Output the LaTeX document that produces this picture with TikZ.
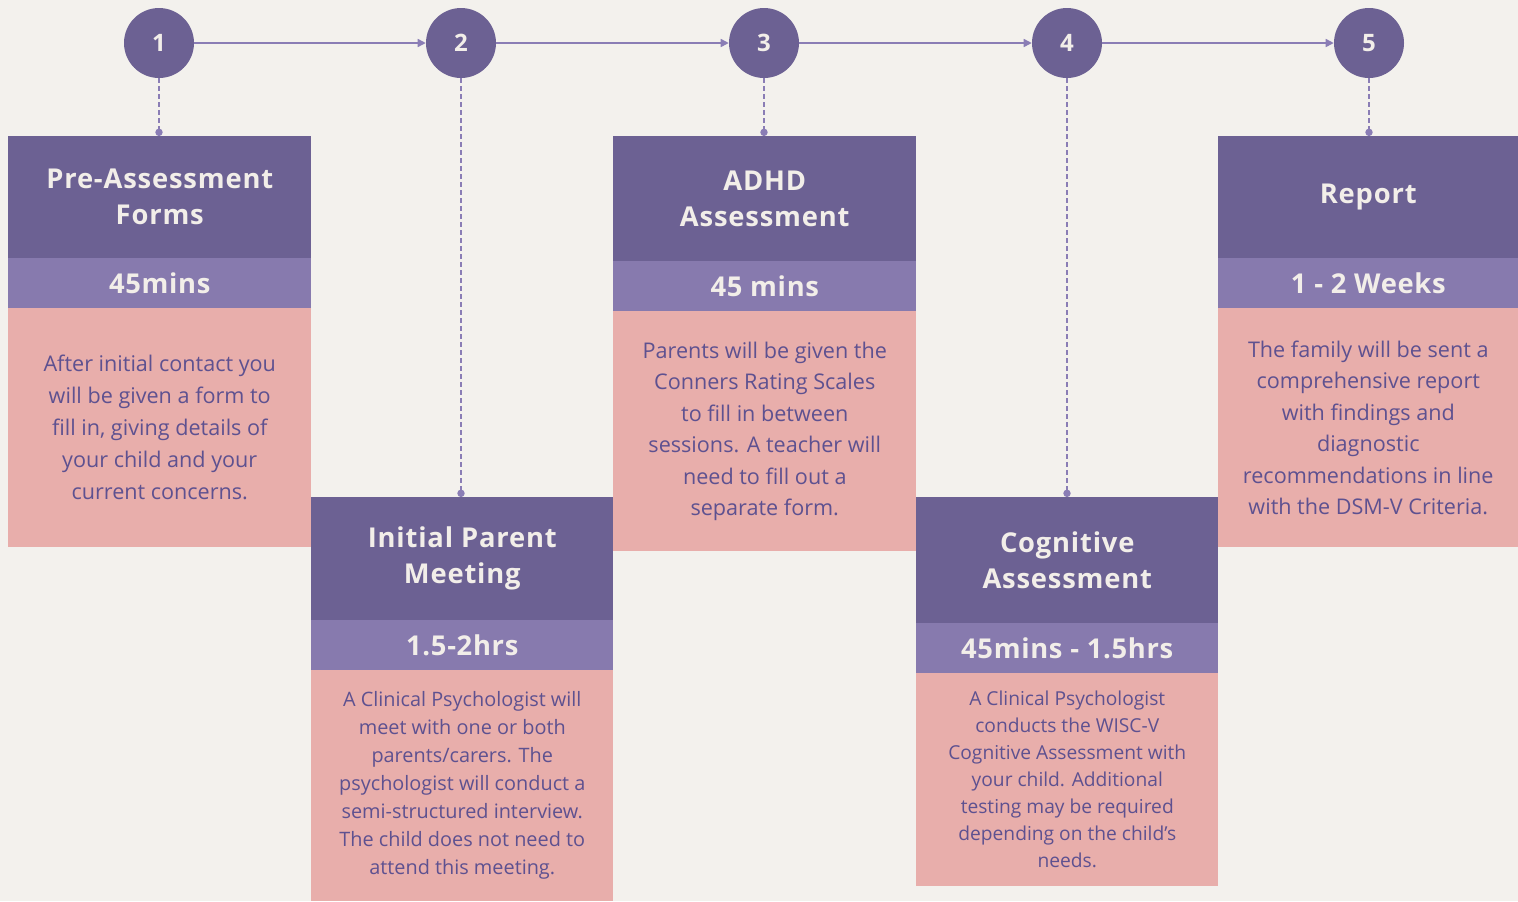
\documentclass[tikz,border=0pt]{standalone}
\usepackage{fontspec}
\setmainfont{Open Sans}
\newfontfamily\headfont[LetterSpace=3]{Open Sans Bold}
\newfontfamily\bandfont[LetterSpace=2.5]{Open Sans Bold}
\newfontfamily\numfont{Open Sans Bold}
\usetikzlibrary{arrows.meta}
\definecolor{bg}{HTML}{F3F1ED}
\definecolor{darkp}{HTML}{6C6193}
\definecolor{bandp}{HTML}{877AAE}
\definecolor{pinkc}{HTML}{E8AEAB}
\definecolor{bodytxt}{HTML}{5E5190}
\definecolor{lighttxt}{HTML}{F2EEE9}
\definecolor{lineclr}{HTML}{8A7DB5}
\tikzset{
  header/.style={fill=darkp, text=lighttxt, anchor=north west, inner sep=0pt, align=center,
     font=\headfont\fontsize{20.5}{27}\selectfont},
  bandbox/.style={fill=bandp, text=lighttxt, anchor=north west, inner sep=0pt, align=center,
     font=\bandfont\fontsize{20.5}{27}\selectfont},
  pinkbox/.style={fill=pinkc, text=bodytxt, anchor=north west, inner sep=0pt, align=center},
  stepcircle/.style={circle, fill=darkp, text=lighttxt, minimum size=52.5pt, inner sep=0pt,
     font=\numfont\fontsize{18}{20}\selectfont},
  flowarrow/.style={draw=lineclr, line width=1.1pt, -{Triangle[length=6pt,width=6pt]}},
  dropline/.style={draw=lineclr, line width=1.1pt, dash pattern=on 3.5pt off 2.5pt, -{Circle[length=5.5pt]}},
}
\begin{document}
\begin{tikzpicture}[x=0.75pt,y=-0.75pt]
\fill[bg] (0,0) rectangle (1518,901);
\useasboundingbox (0,0) rectangle (1518,901);

% circles
\node[stepcircle] (c1) at (159,43) {1};
\node[stepcircle] (c2) at (461,43) {2};
\node[stepcircle] (c3) at (764,43) {3};
\node[stepcircle] (c4) at (1067,43) {4};
\node[stepcircle] (c5) at (1369,43) {5};

% box 1
\node[header, minimum width={303*0.75pt}, minimum height={122*0.75pt}] (h1) at (8,136) {Pre-Assessment\\Forms};
\node[bandbox, minimum width={303*0.75pt}, minimum height={50*0.75pt}] (b1) at (8,258) {45mins};
\node[pinkbox, minimum width={303*0.75pt}, minimum height={239*0.75pt}, font=\fontsize{16.2}{24}\selectfont] (p1) at (8,308)
  {After initial contact you\\will be given a form to\\fill in, giving details of\\your child and your\\current concerns.};

% box 2
\node[header, minimum width={302*0.75pt}, minimum height={123*0.75pt}] (h2) at (311,497) {Initial Parent\\Meeting};
\node[bandbox, minimum width={302*0.75pt}, minimum height={50*0.75pt}] (b2) at (311,620) {1.5-2hrs};
\node[pinkbox, minimum width={302*0.75pt}, minimum height={231*0.75pt}, font=\fontsize{14.9}{21}\selectfont] (p2) at (311,670)
  {A Clinical Psychologist will\\meet with one or both\\parents/carers. The\\psychologist will conduct a\\semi-structured interview.\\The child does not need to\\attend this meeting.};

% box 3
\node[header, minimum width={303*0.75pt}, minimum height={125*0.75pt}] (h3) at (613,136) {ADHD\\Assessment};
\node[bandbox, minimum width={303*0.75pt}, minimum height={50*0.75pt}] (b3) at (613,261) {45 mins};
\node[pinkbox, minimum width={303*0.75pt}, minimum height={240*0.75pt}, font=\fontsize{16.2}{23.6}\selectfont] (p3) at (613,311)
  {Parents will be given the\\Conners Rating Scales\\to fill in between\\sessions. A teacher will\\need to fill out a\\separate form.};

% box 4
\node[header, minimum width={302*0.75pt}, minimum height={126*0.75pt}] (h4) at (916,497) {Cognitive\\Assessment};
\node[bandbox, minimum width={302*0.75pt}, minimum height={50*0.75pt}] (b4) at (916,623) {45mins - 1.5hrs};
\node[pinkbox, minimum width={302*0.75pt}, minimum height={213*0.75pt}, font=\fontsize{14.4}{20.25}\selectfont] (p4) at (916,673)
  {A Clinical Psychologist\\conducts the WISC-V\\Cognitive Assessment with\\your child. Additional\\testing may be required\\depending on the child’s\\needs.};

% box 5
\node[header, minimum width={300*0.75pt}, minimum height={122*0.75pt}] (h5) at (1218,136) {Report};
\node[bandbox, minimum width={300*0.75pt}, minimum height={50*0.75pt}] (b5) at (1218,258) {1 - 2 Weeks};
\node[pinkbox, minimum width={300*0.75pt}, minimum height={239*0.75pt}, font=\fontsize{16.2}{23.6}\selectfont] (p5) at (1218,308)
  {The family will be sent a\\comprehensive report\\with findings and\\diagnostic\\recommendations in line\\with the DSM-V Criteria.};

% connectors
\draw[flowarrow] (c1) -- (c2);
\draw[flowarrow] (c2) -- (c3);
\draw[flowarrow] (c3) -- (c4);
\draw[flowarrow] (c4) -- (c5);

\draw[dropline] (c1) -- (c1 |- h1.north);
\draw[dropline] (c2) -- (c2 |- h2.north);
\draw[dropline] (c3) -- (c3 |- h3.north);
\draw[dropline] (c4) -- (c4 |- h4.north);
\draw[dropline] (c5) -- (c5 |- h5.north);
\end{tikzpicture}
\end{document}
